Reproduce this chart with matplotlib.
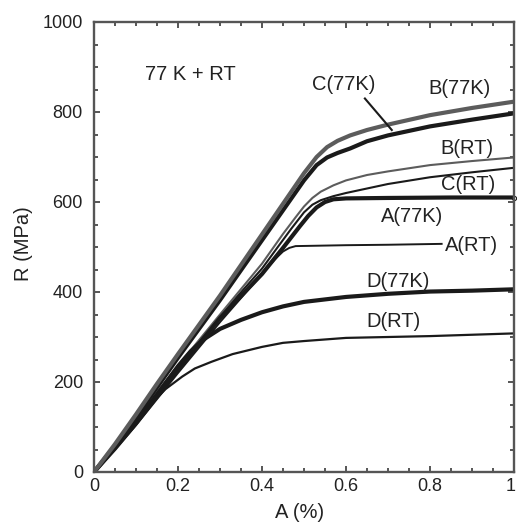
import matplotlib
matplotlib.use('Agg')
import matplotlib.pyplot as plt
from matplotlib.transforms import ScaledTranslation

plt.rcParams['font.family'] = ['Liberation Sans', 'DejaVu Sans']

# strain A (%) and stress R (MPa)
b77_x = [0, 0.05, 0.1, 0.15, 0.2, 0.3, 0.4, 0.5, 0.53, 0.555, 0.58, 0.61, 0.65, 0.7, 0.8, 0.9, 1.0]
b77_r = [0, 62, 128, 196, 262, 392, 528, 664, 700, 722, 736, 748, 760, 772, 793, 809, 823]

c77_x = [0, 0.05, 0.1, 0.15, 0.2, 0.3, 0.4, 0.5, 0.53, 0.555, 0.58, 0.61, 0.65, 0.7, 0.8, 0.9, 1.0]
c77_r = [0, 58, 122, 188, 254, 382, 515, 648, 682, 699, 709, 719, 735, 748, 768, 783, 797]

brt_x = [0, 0.05, 0.1, 0.15, 0.2, 0.3, 0.4, 0.45, 0.48, 0.5, 0.52, 0.54, 0.57, 0.6, 0.65, 0.7, 0.8, 0.9, 1.0]
brt_r = [0, 58, 118, 178, 236, 350, 463, 529, 566, 590, 609, 623, 637, 648, 660, 668, 682, 691, 699]

crt_x = [0, 0.05, 0.1, 0.15, 0.2, 0.3, 0.4, 0.44, 0.47, 0.5, 0.52, 0.54, 0.57, 0.6, 0.7, 0.8, 0.9, 1.0]
crt_r = [0, 55, 114, 175, 234, 347, 452, 503, 541, 577, 594, 604, 613, 620, 640, 655, 666, 676]

a77_x = [0, 0.05, 0.1, 0.15, 0.2, 0.3, 0.4, 0.45, 0.49, 0.51, 0.53, 0.55, 0.57, 0.6, 0.7, 0.85, 1.0]
a77_r = [0, 52, 108, 168, 228, 342, 440, 498, 546, 569, 588, 600, 606, 608, 609, 610, 610]

art_x = [0, 0.05, 0.1, 0.15, 0.2, 0.3, 0.4, 0.43, 0.45, 0.465, 0.48, 0.6, 0.7, 0.83]
art_r = [0, 50, 104, 162, 220, 333, 440, 472, 490, 498, 502, 504, 505, 507]

d77_x = [0, 0.05, 0.1, 0.15, 0.2, 0.23, 0.26, 0.3, 0.35, 0.4, 0.45, 0.5, 0.6, 0.7, 0.8, 0.9, 1.0]
d77_r = [0, 55, 112, 172, 235, 268, 294, 318, 338, 355, 368, 378, 389, 396, 401, 403, 406]

drt_x = [0, 0.05, 0.1, 0.15, 0.17, 0.19, 0.21, 0.24, 0.28, 0.33, 0.4, 0.45, 0.5, 0.6, 0.7, 0.8, 0.9, 1.0]
drt_r = [0, 55, 112, 165, 184, 198, 212, 230, 245, 262, 278, 287, 291, 298, 300, 302, 305, 308]

# curve labels: text, x, R
labels = [
    ('C(77K)', 0.595, 862),
    ('B(77K)', 0.871, 853),
    ('B(RT)', 0.887, 719),
    ('C(RT)', 0.891, 638),
    ('A(77K)', 0.757, 567),
    ('D(77K)', 0.725, 423),
    ('D(RT)', 0.713, 334),
]

black = '#1a1a1a'
gray = '#5c5c5c'
axis_col = '#555555'

fig = plt.figure(figsize=(5.17, 5.31), dpi=100)
ax = fig.add_axes([94 / 517, 59 / 531, 420 / 517, 450 / 531])

# thin room-temperature curves first, thick 77 K curves on top
ax.plot(drt_x, drt_r, color=black, lw=1.6, solid_capstyle='butt')
ax.plot(art_x, art_r, color=black, lw=1.4, solid_capstyle='butt')
ax.plot(crt_x, crt_r, color=black, lw=1.5)
ax.plot(brt_x, brt_r, color=gray, lw=1.5)
ax.plot(d77_x, d77_r, color=black, lw=3.0)
ax.plot(a77_x, a77_r, color=black, lw=3.0)
ax.plot(c77_x, c77_r, color=black, lw=3.0)
ax.plot(b77_x, b77_r, color=gray, lw=3.0)
ax.plot([a77_x[-1]], [a77_r[-1]], 'o', ms=3, mfc='white', mec=black, mew=0.8, clip_on=False)

# pointer from the C(77K) label to its curve
ax.plot([0.645, 0.709], [830, 760], color=black, lw=1.5)

for txt, x, y in labels:
    ax.text(x, y, txt, fontsize=14.5, ha='center', va='center', color='#222222')
ax.text(0.835, 504, 'A(RT)', fontsize=14.5, ha='left', va='center', color='#222222')
ax.text(0.229, 884, '77 K + RT', fontsize=14.5, ha='center', va='center', color='#222222')

ax.set_xlim(0, 1)
ax.set_ylim(0, 1000)
ax.set_xticks([0, 0.2, 0.4, 0.6, 0.8, 1.0])
ax.set_xticklabels(['0', '0.2', '0.4', '0.6', '0.8', '1'])
ax.set_yticks([0, 200, 400, 600, 800, 1000])
ax.set_xticks([i * 0.05 for i in range(21)], minor=True)
ax.set_yticks([i * 50 for i in range(21)], minor=True)

for s in ax.spines.values():
    s.set_color(axis_col)
    s.set_linewidth(1.7)
ax.tick_params(which='both', direction='in', top=True, right=True, color=axis_col,
               width=1.4, labelsize=13, labelcolor='#222222')
ax.tick_params(which='major', length=4.5)
ax.tick_params(which='minor', length=2.8)
ax.tick_params(axis='x', pad=4)
ax.tick_params(axis='y', pad=8)

# keep the last x tick label inside the figure
last = ax.get_xticklabels()[-1]
last.set_transform(last.get_transform() + ScaledTranslation(-3 / 100, 0, fig.dpi_scale_trans))

ax.set_xlabel('A (%)', fontsize=14.5, color='#222222', va='center')
ax.set_ylabel('R (MPa)', fontsize=14.5, color='#222222', va='center')
ax.xaxis.set_label_coords(0.49, -0.091)
ax.yaxis.set_label_coords(-0.169, 0.507)

fig.savefig('out.png', dpi=100)
